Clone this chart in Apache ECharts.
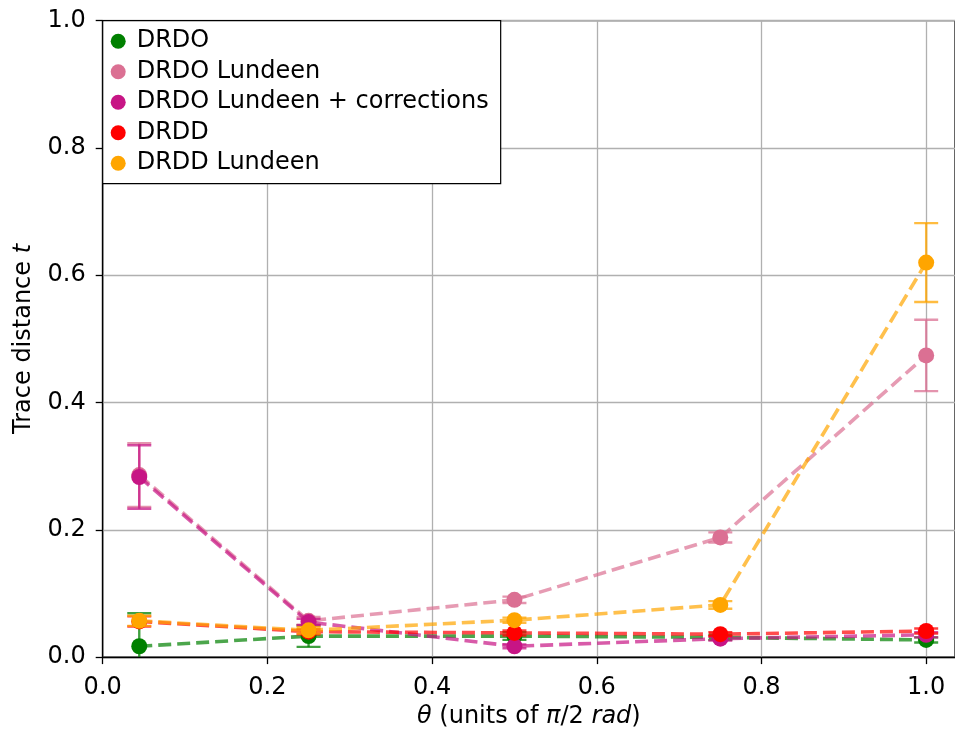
<!DOCTYPE html>
<html>
<head>
<meta charset="utf-8">
<script src="https://cdn.jsdelivr.net/npm/echarts@6/dist/echarts.min.js"></script>
<style>
  html, body { margin: 0; padding: 0; background: #fff; }
  #chart { width: 955px; height: 734px; }
</style>
</head>
<body>
<div id="chart"></div>
<script>
// theta values (units of pi/2)
var thetas = [0.0444, 0.25, 0.5, 0.75, 1.0];

var names = ['DRDO', 'DRDO Lundeen', 'DRDO Lundeen + corrections', 'DRDD', 'DRDD Lundeen'];
var colors = ['#008000', '#DB7093', '#C71585', '#FF0000', '#FFA500'];

// trace distances
var drdo = [0.017, 0.033, 0.033, 0.031, 0.027];
var drdoLundeen = [0.286, 0.057, 0.090, 0.188, 0.474];
var drdoCorr = [0.283, 0.055, 0.017, 0.029, 0.035];
var drdd = [0.056, 0.040, 0.038, 0.036, 0.041];
var drddLundeen = [0.057, 0.042, 0.058, 0.082, 0.620];

// error bar half widths
var drdoErr = [0.052, 0.017, 0.006, 0.004, 0.004];
var drdoLundeenErr = [0.050, 0.006, 0.005, 0.008, 0.056];
var drdoCorrErr = [0.050, 0.005, 0.003, 0.003, 0.004];
var drddErr = [0.008, 0.004, 0.004, 0.003, 0.004];
var drddLundeenErr = [0.008, 0.005, 0.004, 0.006, 0.062];

var values = [drdo, drdoLundeen, drdoCorr, drdd, drddLundeen];
var errors = [drdoErr, drdoLundeenErr, drdoCorrErr, drddErr, drddLundeenErr];

var font = 'DejaVu Sans';
var fs = 24;
var chart = echarts.init(document.getElementById('chart'));

function errBar(color) {
    return function (params, api) {
        var x = api.value(0);
        var top = api.coord([x, api.value(2)]);
        var bot = api.coord([x, api.value(1)]);
        var hw = 12;
        var style = { stroke: color, lineWidth: 2.4, opacity: 0.75 };
        return {
            type: 'group',
            children: [
                { type: 'line', shape: { x1: top[0], y1: top[1], x2: bot[0], y2: bot[1] }, style: style },
                { type: 'line', shape: { x1: top[0] - hw, y1: top[1], x2: top[0] + hw, y2: top[1] }, style: style },
                { type: 'line', shape: { x1: bot[0] - hw, y1: bot[1], x2: bot[0] + hw, y2: bot[1] }, style: style }
            ]
        };
    };
}

var series = [];
names.forEach(function (name, i) {
    series.push({
        name: name,
        type: 'line',
        data: thetas.map(function (t, j) { return [t, values[i][j]]; }),
        symbol: 'circle',
        symbolSize: 16,
        itemStyle: { color: colors[i] },
        lineStyle: { color: colors[i], width: 3.6, type: [13, 6], opacity: 0.7 },
        z: 3 + i,
        animation: false
    });
    series.push({
        name: name + ' err',
        type: 'custom',
        clip: true,
        renderItem: errBar(colors[i]),
        data: thetas.map(function (t, j) {
            return [t, values[i][j] - errors[i][j], values[i][j] + errors[i][j]];
        }),
        z: 3 + i,
        animation: false
    });
});

chart.setOption({
    animation: false,
    grid: {
        left: 102.7, right: -1, top: 20.7, bottom: 74.7,
        show: true, borderColor: '#000', borderWidth: 1.3, backgroundColor: '#fff'
    },
    legend: {
        data: names,
        orient: 'vertical',
        left: 102.7, top: 20.7,
        icon: 'circle',
        itemWidth: 15, itemHeight: 15,
        itemGap: 4.5,
        padding: [7.5, 12, 7.5, 8],
        backgroundColor: '#fff',
        borderColor: '#000',
        borderWidth: 1.2,
        borderRadius: 0,
        z: 20,
        textStyle: { fontFamily: font, fontSize: fs, color: '#000', lineHeight: 26, padding: [0, 0, 0, 6] }
    },
    xAxis: {
        type: 'value',
        min: 0, max: 1.035, interval: 0.2,
        name: '{i|θ} (units of {i|π}/2 {i|rad})',
        nameLocation: 'middle',
        nameGap: 45,
        nameTextStyle: {
            fontFamily: font, fontSize: fs, color: '#000',
            rich: { i: { fontFamily: font, fontSize: fs, fontStyle: 'italic', color: '#000' } }
        },
        axisLine: { show: true, lineStyle: { color: '#000', width: 1.3 } },
        axisTick: { show: true, length: 7, lineStyle: { color: '#000', width: 1.3 } },
        axisLabel: {
            fontFamily: font, fontSize: fs, color: '#000', margin: 19,
            formatter: function (v) { return v.toFixed(1); },
            showMaxLabel: false
        },
        splitLine: { show: true, lineStyle: { color: '#b0b0b0', width: 1.3 } }
    },
    yAxis: {
        type: 'value',
        min: 0, max: 1, interval: 0.2,
        name: 'Trace distance {i|t}',
        nameLocation: 'middle',
        nameGap: 67,
        nameTextStyle: {
            fontFamily: font, fontSize: fs, color: '#000',
            rich: { i: { fontFamily: font, fontSize: fs, fontStyle: 'italic', color: '#000' } }
        },
        axisLine: { show: true, lineStyle: { color: '#000', width: 1.3 } },
        axisTick: { show: true, length: 7, lineStyle: { color: '#000', width: 1.3 } },
        axisLabel: {
            fontFamily: font, fontSize: fs, color: '#000', margin: 17,
            formatter: function (v) { return v.toFixed(1); }
        },
        splitLine: { show: true, lineStyle: { color: '#b0b0b0', width: 1.3 } }
    },
    series: series
});
</script>
</body>
</html>
